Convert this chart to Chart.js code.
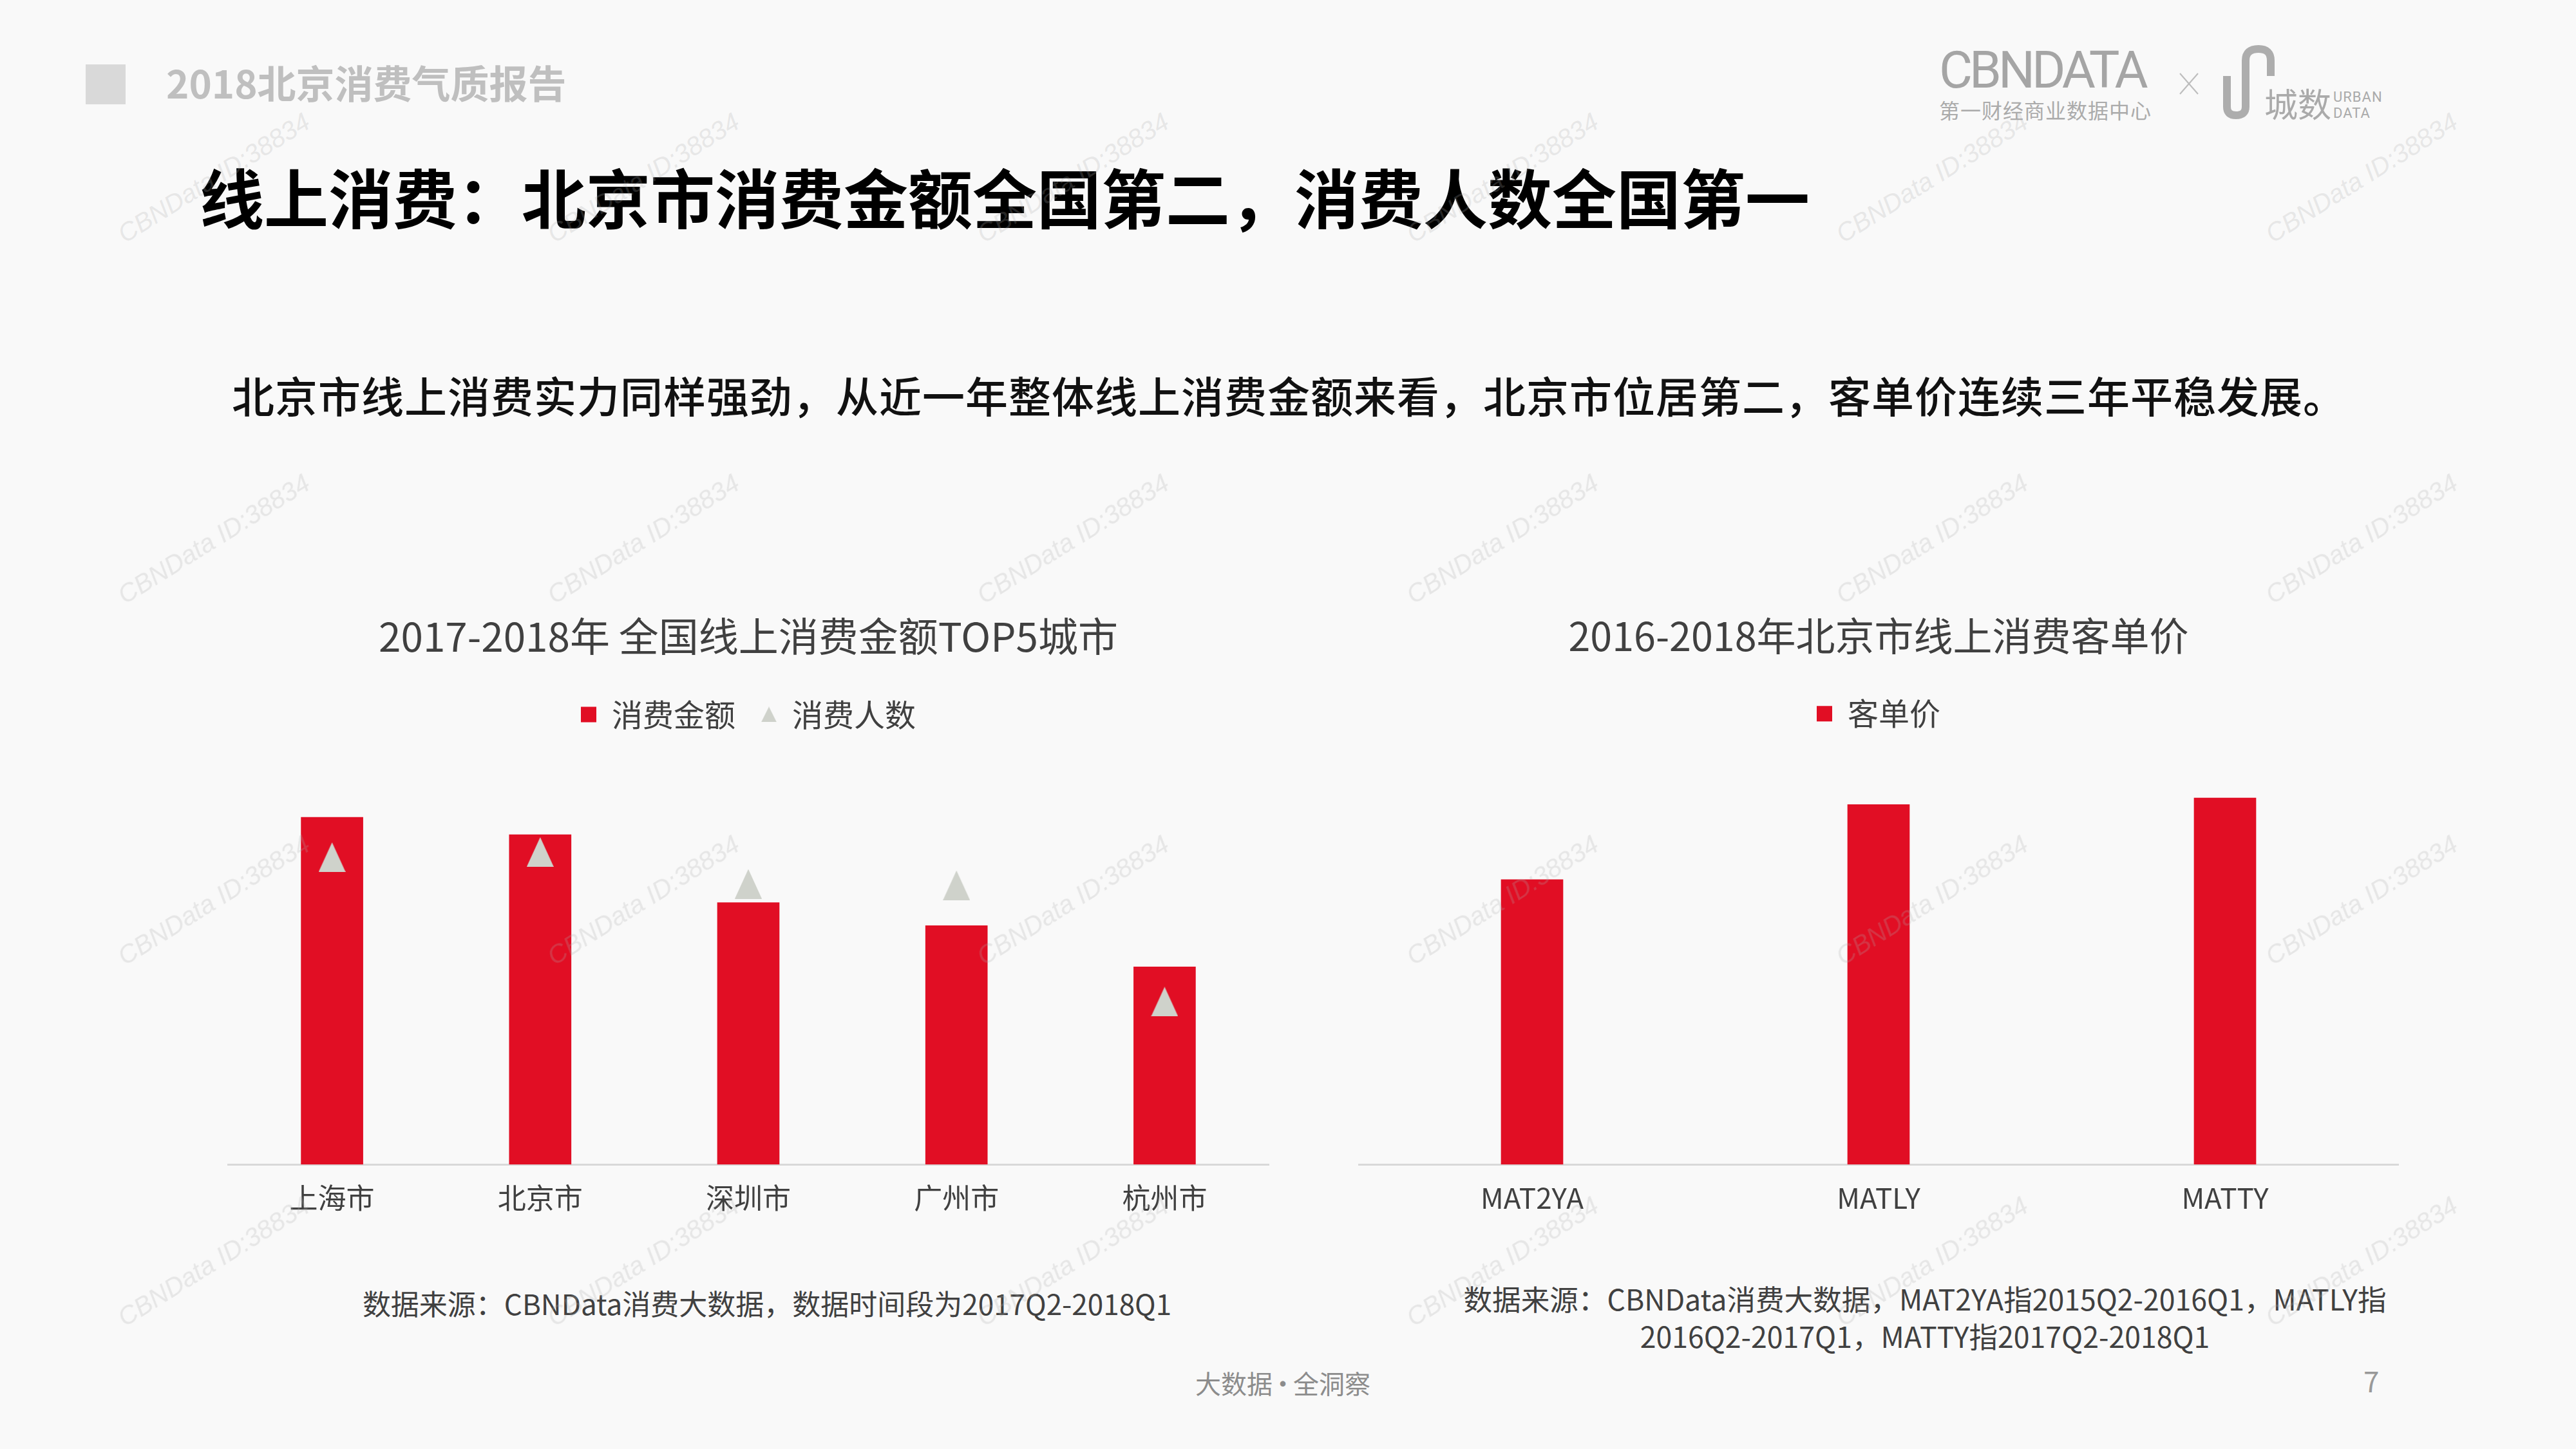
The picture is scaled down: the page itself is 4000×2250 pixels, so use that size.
<!DOCTYPE html>
<html lang="zh-CN">
<head>
<meta charset="utf-8">
<title>2018北京消费气质报告</title>
<script src="https://cdn.jsdelivr.net/npm/chart.js@4.4.0/dist/chart.umd.min.js"></script>
<style>
  html, body { margin: 0; padding: 0; }
  body {
    width: 4000px; height: 2250px; position: relative; overflow: hidden;
    background: #f9f9f9;
    font-family: "Noto Sans CJK SC", "Noto Sans", sans-serif;
  }
  .t { position: absolute; white-space: nowrap; line-height: 1; transform: translateY(-50%); }
  .c { transform: translate(-50%, -50%); text-align: center; }
  .box { position: absolute; }
  .wm {
    position: absolute; white-space: nowrap; z-index: 5; pointer-events: none;
    font-family: "Liberation Sans", sans-serif; font-style: italic; font-size: 40px;
    color: rgba(170, 170, 170, 0.24);
    transform: translate(-50%, -50%) rotate(-32deg);
  }
</style>
</head>
<body>

<!-- header -->
<div class="box" style="left:133px;top:100px;width:62px;height:62px;background:#d9d9d9"></div>
<div class="t" style="left:258px;top:127px;font-size:60px;font-weight:700;color:#bfbfbf">2018北京消费气质报告</div>

<div class="t" style="left:3011px;top:109px;font-family:Roboto,sans-serif;font-size:80px;font-weight:400;letter-spacing:-5px;color:#a5a5a5">CBNDATA</div>
<div class="t" style="left:3011px;top:170px;font-size:32px;letter-spacing:1px;color:#ababab">第一财经商业数据中心</div>
<svg class="box" style="left:0;top:0" width="4000" height="240">
  <line x1="3385" y1="114" x2="3413" y2="146" stroke="#bdbdbd" stroke-width="2"/>
  <line x1="3413" y1="114" x2="3385" y2="146" stroke="#bdbdbd" stroke-width="2"/>
  <path d="M3458 118 L3458 166 Q3458 179 3472 179 Q3487 179 3487 166 L3487 94 Q3487 76 3507 76 Q3526 76 3526 94 L3526 118"
        fill="none" stroke="#adadad" stroke-width="12"/>
</svg>
<div class="t" style="left:3516px;top:160px;font-size:52px;color:#aaaaaa">城数</div>
<div class="t" style="left:3623px;top:151px;font-family:Roboto,sans-serif;font-size:22px;letter-spacing:1px;color:#aaaaaa">URBAN</div>
<div class="t" style="left:3623px;top:176px;font-family:Roboto,sans-serif;font-size:22px;letter-spacing:1px;color:#aaaaaa">DATA</div>

<!-- titles -->
<div class="t" style="left:310px;top:304px;font-size:100px;font-weight:700;color:#000">线上消费：北京市消费金额全国第二，消费人数全国第一</div>
<div class="t" style="left:360px;top:612px;font-size:66px;font-weight:500;letter-spacing:1px;color:#111">北京市线上消费实力同样强劲，从近一年整体线上消费金额来看，北京市位居第二，客单价连续三年平稳发展。</div>

<!-- charts -->
<div class="box" style="left:300px;top:940px;width:1720px;height:973px"><canvas id="cityChart"></canvas></div>
<div class="box" style="left:2060px;top:940px;width:1720px;height:973px"><canvas id="priceChart"></canvas></div>

<!-- notes -->
<div class="t c" style="left:1191px;top:2023px;font-size:44px;color:#404040">数据来源：CBNData消费大数据，数据时间段为2017Q2-2018Q1</div>
<div class="t c" style="left:2989px;top:2045px;font-size:44.6px;line-height:58px;color:#404040">数据来源：CBNData消费大数据，MAT2YA指2015Q2-2016Q1，MATLY指<br>2016Q2-2017Q1，MATTY指2017Q2-2018Q1</div>
<div class="t" style="left:1856px;top:2147px;font-size:40px;color:#8c8c8c">大数据<span style="margin:0 -4px">·</span>全洞察</div>
<div class="t" style="left:3670px;top:2143px;font-size:44px;color:#999999">7</div>

<div id="marks"></div>

<script>
// 2017-2018 全国线上消费金额TOP5城市 (上海市消费金额 = 100)
const cities = ['上海市', '北京市', '深圳市', '广州市', '杭州市'];
const amountIdx = [100, 95.0, 75.4, 68.8, 56.9];
const buyerIdx = [88.5, 90.0, 80.8, 80.4, 46.9];
const cityMax = 123.3;

// 2016-2018 北京市线上消费客单价 (MATTY = 100)
const periods = ['MAT2YA', 'MATLY', 'MATTY'];
const unitPrice = [77.7, 98.2, 100];
const priceMax = 117.0;

const red = '#e10e24';
const grey = '#cfd2cb';
const textColor = '#404040';

Chart.defaults.font.family = '"Noto Sans CJK SC", "Noto Sans", sans-serif';
Chart.defaults.color = textColor;

function triangle(w, h, color) {
  const c = document.createElement('canvas');
  c.width = w;
  c.height = h;
  const g = c.getContext('2d');
  g.fillStyle = color;
  g.beginPath();
  g.moveTo(w / 2, 0);
  g.lineTo(w, h);
  g.lineTo(0, h);
  g.closePath();
  g.fill();
  return c;
}
const triBig = triangle(42, 46, grey);
const triSmall = triangle(24, 24, grey);

function legendItems(chart) {
  return chart.data.datasets.map((ds, i) => ({
    text: ds.label,
    fillStyle: ds.backgroundColor,
    strokeStyle: ds.backgroundColor,
    lineWidth: 0,
    pointStyle: ds.type === 'line' ? triSmall : 'rect',
    fontColor: textColor,
    hidden: false,
    datasetIndex: i
  }));
}

function baseOptions(title, titleSize, left, right, ymax) {
  return {
    responsive: true,
    maintainAspectRatio: false,
    animation: false,
    layout: { padding: { left: left, right: right, top: 0, bottom: 0 } },
    plugins: {
      title: {
        display: true,
        text: title,
        color: textColor,
        font: { size: titleSize, weight: 'normal' },
        padding: { top: 11, bottom: 20 }
      },
      legend: {
        labels: {
          usePointStyle: true,
          boxHeight: 24,
          pointStyleWidth: 24,
          padding: 40,
          color: textColor,
          font: { size: 48 },
          generateLabels: legendItems
        }
      },
      tooltip: { enabled: false }
    },
    scales: {
      x: {
        grid: { display: false, drawTicks: false },
        border: { display: true, color: '#d9d9d9', width: 3 },
        ticks: { color: textColor, font: { size: 44 }, padding: 26 }
      },
      y: { display: false, min: 0, max: ymax }
    }
  };
}

new Chart(document.getElementById('cityChart'), {
  type: 'bar',
  data: {
    labels: cities,
    datasets: [
      {
        label: '消费金额',
        data: amountIdx,
        backgroundColor: red,
        barThickness: 96,
        order: 2
      },
      {
        type: 'line',
        label: '消费人数',
        data: buyerIdx,
        backgroundColor: grey,
        borderColor: grey,
        showLine: false,
        pointStyle: triBig,
        pointRadius: 20,
        order: 1
      }
    ]
  },
  options: baseOptions('2017-2018年 全国线上消费金额TOP5城市', 62, 54, 50, cityMax)
});

new Chart(document.getElementById('priceChart'), {
  type: 'bar',
  data: {
    labels: periods,
    datasets: [{
      label: '客单价',
      data: unitPrice,
      backgroundColor: red,
      barThickness: 96
    }]
  },
  options: baseOptions('2016-2018年北京市线上消费客单价', 61, 50, 56, priceMax)
});

// CBNData watermarks
const marks = document.getElementById('marks');
for (let r = 0; r < 4; r++) {
  for (let c = 0; c < 6; c++) {
    const d = document.createElement('div');
    d.className = 'wm';
    d.style.left = (332 + 667 * c) + 'px';
    d.style.top = (276 + 561 * r) + 'px';
    d.textContent = 'CBNData ID:38834';
    marks.appendChild(d);
  }
}
</script>
</body>
</html>
